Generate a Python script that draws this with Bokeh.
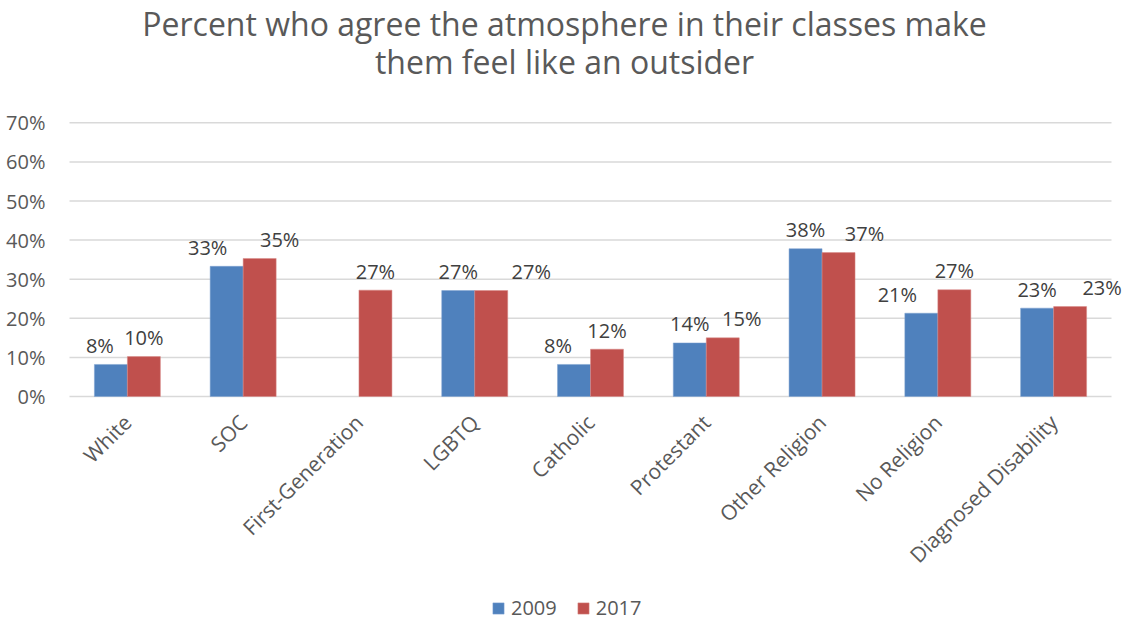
import math
from bokeh.plotting import figure
from bokeh.models import (ColumnDataSource, FactorRange, FixedTicker, PrintfTickFormatter,
                          Label, Legend, LegendItem, Range1d)
from bokeh.transform import dodge
from bokeh.core.properties import value
from bokeh.embed import file_html
from bokeh.resources import INLINE

# ---- data ----
categories = ["White", "SOC", "First-Generation", "LGBTQ", "Catholic", "Protestant",
              "Other Religion", "No Religion", "Diagnosed Disability"]
series_names = ["2009", "2017"]
values_2009 = [8.2, 33.3, None, 27.1, 8.2, 13.7, 37.8, 21.3, 22.6]
values_2017 = [10.2, 35.3, 27.2, 27.1, 12.1, 15.0, 36.8, 27.3, 23.0]
y_ticks = [0, 10, 20, 30, 40, 50, 60, 70]
title_lines = ["Percent who agree the atmosphere in their classes make",
               "them feel like an outsider"]

# label nudges (pixels) mimicking the reference's label placement
nudge_2009 = [-11, -19, 0, 0, -16, 0, 0, -24, 0]
nudge_2017 = [0, 20, 0, 40, 0, 19, 26, 0, 32]

FONT = "Open Sans"
BLUE = "#4F81BD"
RED = "#C0504D"
W, H = 1128, 623
PX_PER_UNIT = 273.7 / 70.0      # vertical pixels per percentage point
ZERO_Y = 396                    # pixel row of the 0% line
CAT_PX = 1042.0 / len(categories)   # pixel width of one category slot
PAD = 17.0 / CAT_PX             # horizontal frame padding (category units)

# The plot frame spans the full height so that the title, the category labels
# and the legend can be drawn inside it; the value axis still maps 0..70%.
p = figure(x_range=FactorRange(factors=categories, range_padding=PAD,
                               range_padding_units="absolute"),
           y_range=Range1d(-(H - ZERO_Y) / PX_PER_UNIT, ZERO_Y / PX_PER_UNIT),
           width=W, height=H, output_backend="svg", toolbar_location=None,
           min_border_left=52, min_border_right=0, min_border_top=0, min_border_bottom=0)
p.outline_line_color = None
p.background_fill_color = "white"
p.border_fill_color = "white"

# axes
p.xaxis.visible = False
p.yaxis.ticker = FixedTicker(ticks=y_ticks)
p.yaxis.formatter = PrintfTickFormatter(format="%d%%")
ya = p.yaxis[0]
ya.axis_line_color = None
ya.major_tick_line_color = None
ya.minor_tick_line_color = None
ya.major_tick_out = 0
ya.major_tick_in = 0
ya.minor_tick_out = 0
ya.major_label_text_font = FONT
ya.major_label_text_font_size = "20px"
ya.major_label_text_color = "#595959"
ya.major_label_standoff = 7

p.xgrid.grid_line_color = None
p.ygrid.grid_line_color = None

# horizontal gridlines spanning the category slots only
grid_src = ColumnDataSource(dict(y=y_ticks, x0=[0] * len(y_ticks),
                                 x1=[len(categories)] * len(y_ticks)))
p.segment(x0="x0", x1="x1", y0="y", y1="y", source=grid_src,
          line_color="#D9D9D9", line_width=1.5)

# data sources
def build(vals, nudges):
    cats, tops, texts, offs = [], [], [], []
    for c, v, n in zip(categories, vals, nudges):
        if v is None:
            continue
        cats.append(c)
        tops.append(v)
        texts.append("{:.0f}%".format(v))
        offs.append(n)
    return ColumnDataSource(dict(cat=cats, top=tops, text=texts, xoff=offs))

src09 = build(values_2009, nudge_2009)
src17 = build(values_2017, nudge_2017)

bw = 0.285
r09 = p.vbar(x=dodge("cat", -bw / 2, range=p.x_range), top="top", bottom=0, width=bw,
             source=src09, fill_color=BLUE, line_color="#7FA3D0", line_width=0.5)
r17 = p.vbar(x=dodge("cat", bw / 2, range=p.x_range), top="top", bottom=0, width=bw,
             source=src17, fill_color=RED, line_color="#D98A88", line_width=0.5)

# value labels
for src, d in ((src09, -bw / 2), (src17, bw / 2)):
    p.text(x=dodge("cat", d, range=p.x_range), y="top", text="text", source=src,
           x_offset="xoff", y_offset=-19, text_align="center", text_baseline="alphabetic",
           text_font=value(FONT), text_font_size="20px", text_color="#404040")

# category labels (rotated 45 degrees, ending under each category)
cat_src = ColumnDataSource(dict(cat=categories, y=[0] * len(categories)))
p.text(x="cat", y="y", text="cat", source=cat_src, angle=math.pi / 4,
       x_offset=0, y_offset=22, text_align="right", text_baseline="middle",
       text_font=value(FONT), text_font_size="21px", text_color="#595959")

# title, centred on the whole chart
for i, line in enumerate(title_lines):
    p.add_layout(Label(x=564 - 52, y=H - 23 - 38 * i, x_units="screen", y_units="screen",
                       text=line, text_align="center", text_baseline="alphabetic",
                       text_font=FONT, text_font_size="32px", text_color="#595959"))

# legend
legend = Legend(items=[LegendItem(label=series_names[0], renderers=[r09]),
                       LegendItem(label=series_names[1], renderers=[r17])],
                orientation="horizontal", location=(491 - 52, 2),
                label_text_font=FONT, label_text_font_size="20px", label_text_color="#595959",
                glyph_width=14, glyph_height=14, label_standoff=6, spacing=19,
                label_height=20, padding=0, margin=0, border_line_color=None,
                background_fill_alpha=0)
p.add_layout(legend, "center")

open("out.html", "w").write(file_html(p, INLINE))
